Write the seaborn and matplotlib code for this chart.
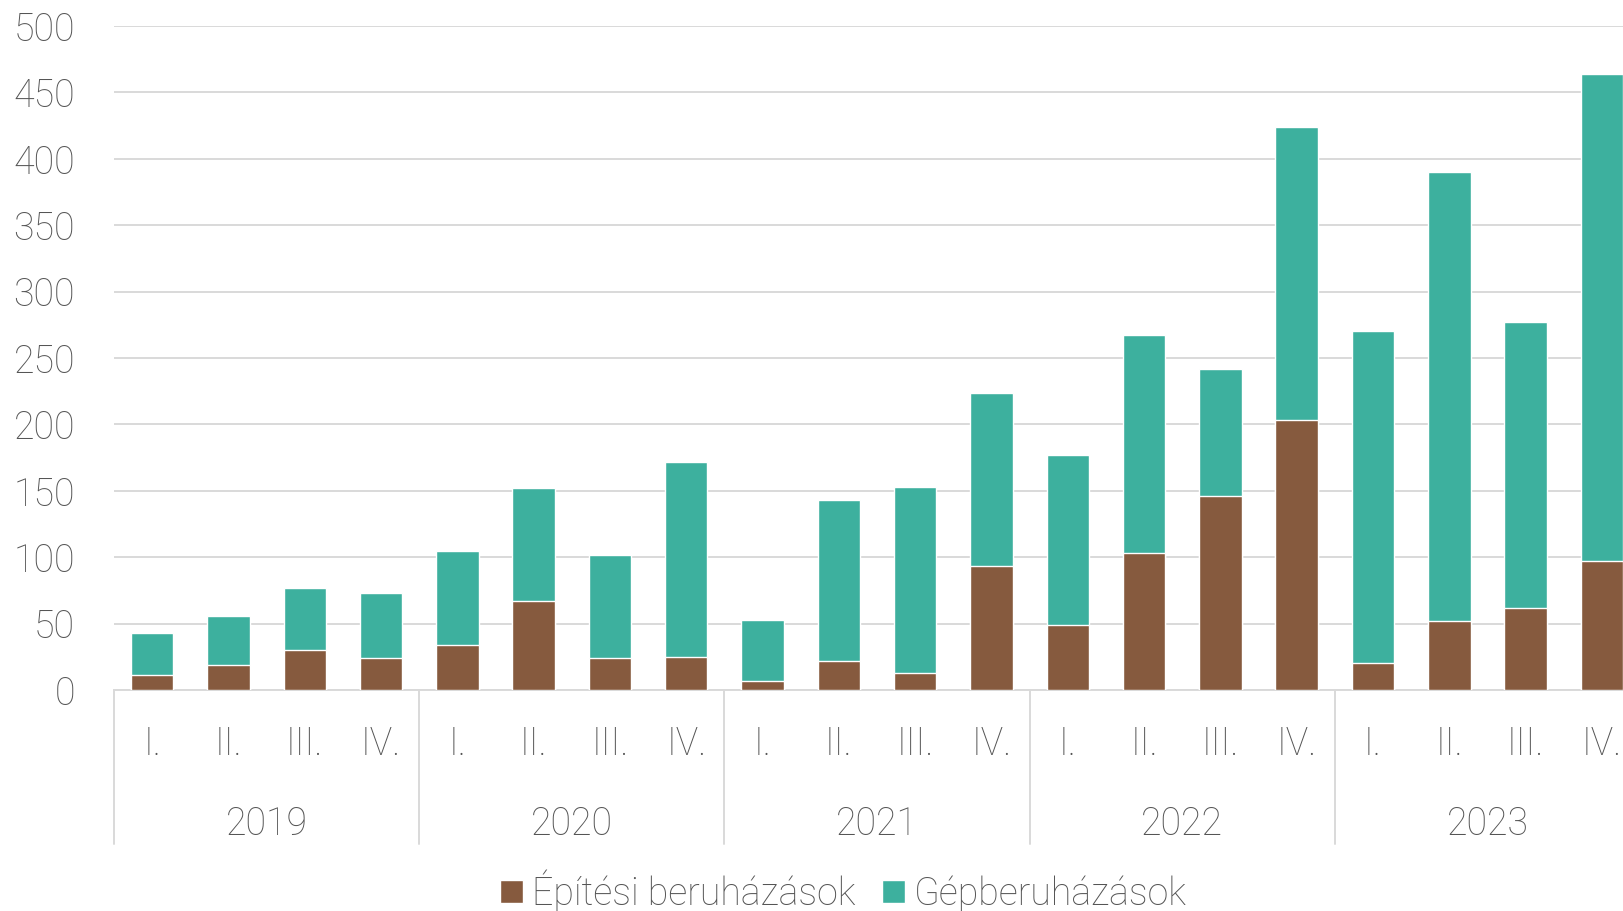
import matplotlib
matplotlib.use("Agg")
import matplotlib.pyplot as plt
import matplotlib.transforms as mtransforms
import numpy as np
import pandas as pd
import seaborn as sns

# quarterly investment data
years = ["2019", "2020", "2021", "2022", "2023"]
quarters = ["I.", "II.", "III.", "IV."]
epitesi = [11, 19, 30, 24,
           34, 67, 24, 25,
           7, 22, 13, 93,
           49, 103, 146, 203,
           20, 52, 62, 97]
total = [43, 56, 77, 73,
         105, 152, 102, 172,
         53, 143, 153, 224,
         177, 267, 242, 424,
         270, 390, 277, 464]

brown = "#865a3e"
teal = "#3db09e"
txt = "#555555"
grid = "#d9d9d9"

keys = [f"{y} {q}" for y in years for q in quarters]
df = pd.DataFrame({"key": keys, "epitesi": epitesi, "total": total})

sns.set_theme(style="white")
plt.rcParams["font.family"] = ["Roboto", "DejaVu Sans"]
plt.rcParams["font.weight"] = "light"

fig = plt.figure(figsize=(16.24, 9.11), dpi=100)
ax = fig.add_axes([0.0702, 0.2426, 0.9397, 0.7289])

# stacked bars: total (teal) behind, construction (brown) in front
sns.barplot(data=df, x="key", y="total", color=teal, width=0.556,
            saturation=1, ax=ax, label="Gépberuházások", zorder=3)
sns.barplot(data=df, x="key", y="epitesi", color=brown, width=0.556,
            saturation=1, ax=ax, label="Építési beruházások", zorder=3)

ax.set_xlim(-0.5, len(keys) - 0.5)
ax.set_ylim(0, 500)
ax.set_yticks(np.arange(0, 501, 50))
ax.yaxis.grid(True, color=grid, linewidth=1.4, zorder=0)
ax.set_axisbelow(True)
for s in ["top", "right", "left"]:
    ax.spines[s].set_visible(False)
ax.spines["bottom"].set_color(grid)
ax.spines["bottom"].set_linewidth(1.4)
ax.tick_params(axis="y", length=0, pad=28, labelsize=27, labelcolor=txt)
ax.set_xticks([])
ax.set_xlabel("")
ax.set_ylabel("")

# two-level category axis
trans = mtransforms.blended_transform_factory(ax.transData, ax.transAxes)
for i, k in enumerate(keys):
    ax.text(i, -0.082, k.split(" ")[1], transform=trans, ha="center",
            va="center", fontsize=27, color=txt, fontweight="light")
for j, y in enumerate(years):
    ax.text(j * 4 + 1.5, -0.2015, y, transform=trans, ha="center",
            va="center", fontsize=27, color=txt, fontweight="light")
    ax.plot([j * 4 - 0.5, j * 4 - 0.5], [0, -0.232], transform=trans,
            color=grid, linewidth=1.4, clip_on=False)
ax.plot([len(keys) - 0.5] * 2, [0, -0.232], transform=trans,
        color=grid, linewidth=1.4, clip_on=False)

handles, labels = ax.get_legend_handles_labels()
order = [labels.index("Építési beruházások"), labels.index("Gépberuházások")]
fig.legend([handles[i] for i in order], [labels[i] for i in order],
           loc="center", bbox_to_anchor=(0.5195, 0.022), ncol=2, frameon=False,
           fontsize=27, labelcolor=txt, handlelength=0.6, handleheight=0.6,
           handletextpad=0.25, columnspacing=0.7)
if ax.get_legend():
    ax.get_legend().remove()

fig.savefig("out.png", dpi=100)
